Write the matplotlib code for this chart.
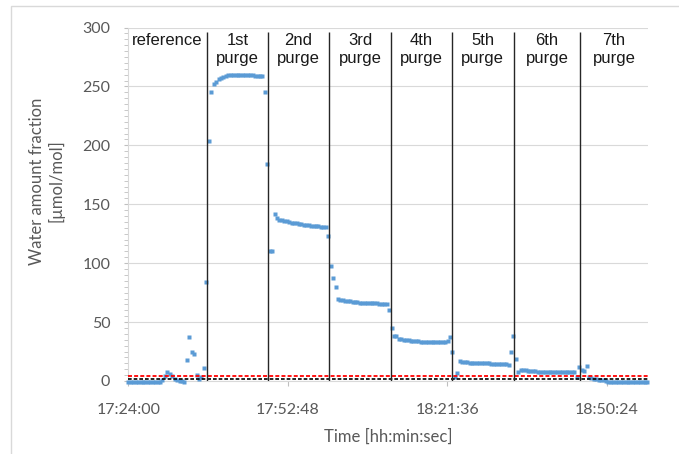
import matplotlib
matplotlib.use('Agg')
import matplotlib.pyplot as plt
from matplotlib.ticker import MultipleLocator, FuncFormatter
from matplotlib.patches import Rectangle
import numpy as np

# ---------------- data ----------------
sample_step_s = 26.4          # measurement interval (s), first sample at 17:24:00
start_clock_s = 17 * 3600 + 24 * 60

ref_vals = [-1, -1, -1, -1, -1, -1, -1, -1, -1, -1, -1, -1, -1, -1,
            1, 4, 8, 6, 4, 2, 1, 0, 0, -1, 18, 37, 25, 23, 5, 2, 3, 11, 84]
purge1_vals = [204, 245, 252, 254, 256, 257, 258, 259, 259.5, 260, 260, 260, 260,
               260, 259.5, 260, 259.5, 259.5, 259.5, 259, 259, 259, 259, 245, 184]
purge2_vals = [110, 110, 142, 138, 137, 136.5, 136, 135.5, 135, 134.5, 134, 133.7,
               133.3, 133, 132.7, 132.4, 132.1, 131.8, 131.5, 131.3, 131.2, 131.1,
               131, 130.5, 123]
purge3_vals = [98, 87, 80, 69.5, 69, 68.5, 68, 67.8, 67.5, 67.2, 67, 66.8, 66.6,
               66.4, 66.2, 66, 66, 65.9, 65.8, 65.8, 65.7, 65.7, 65.6, 65.6, 60]
purge4_vals = [45, 38, 38, 36, 35.5, 35, 34.7, 34.5, 34.3, 34, 33.8, 33.6, 33.5,
               33.4, 33.3, 33.2, 33, 33, 33, 33.5, 33, 33.5, 33.5, 34]
purge5_vals = [37, 25, 3, 7, 17, 16.5, 16, 15.8, 15.6, 15.5, 15.4, 15.3, 15.2,
               15.1, 15, 15, 14.9, 14.8, 14.8, 14.7, 14.7, 14.6, 14.6, 14.5, 14, 25, 38]
purge6_vals = [19, 8, 9, 9.5, 9, 8.5, 8.3, 8.2, 8.1, 8, 8, 8, 7.9, 7.9, 7.8, 7.8,
               7.8, 7.7, 7.7, 7.7, 7.6, 7.6, 7.6, 7.5, 7.5, 3, 12, 9, 8.5, 13]
purge7_vals = [3, 2.5, 2, 1.5, 1, 0.5, 0.5, 0, -0.5, -1, -1, -1, -1, -1, -1, -1,
               -1, -1, -1, -1, -1, -1, -1, -1, -1]

section_labels = ["reference", "1st\npurge", "2nd\npurge", "3rd\npurge",
                  "4th\npurge", "5th\npurge", "6th\npurge", "7th\npurge"]
boundary_s = [849, 1514, 2171, 2848, 3501, 4177, 4894]   # seconds after 17:24:00
red_limits = [4.5]
black_limits = [1.6]
xtick_s = [0, 1728, 3456, 5184]
yticks = [0, 50, 100, 150, 200, 250, 300]
x_max_s = 5630

values = np.array(ref_vals + purge1_vals + purge2_vals + purge3_vals +
                  purge4_vals + purge5_vals + purge6_vals + purge7_vals)
times = np.arange(len(values)) * sample_step_s

# ---------------- figure ----------------
plt.rcParams['font.family'] = ['Lato', 'DejaVu Sans']

fig = plt.figure(figsize=(6.79, 4.54), dpi=100)
fig.add_artist(Rectangle((11 / 679, -0.5), 2, 0.9868 + 0.5, transform=fig.transFigure,
                         fill=False, ec='#D9D9D9', lw=1.0))

ax = fig.add_axes([0.189, 0.1608, 0.7655, 0.7786])
ax.set_xlim(0, x_max_s)
ax.set_ylim(0, 300)

for s in ['top', 'right']:
    ax.spines[s].set_visible(False)
for s in ['left', 'bottom']:
    ax.spines[s].set_color('#D9D9D9')
    ax.spines[s].set_linewidth(0.8)

ax.set_yticks(yticks)
ax.yaxis.set_minor_locator(MultipleLocator(5))
ax.yaxis.grid(True, which='major', color='#D9D9D9', lw=0.8)
ax.set_axisbelow(True)
ax.tick_params(axis='y', which='both', length=3, color='#BFBFBF',
               labelsize=11.5, labelcolor='#595959', pad=10)

def clock_fmt(s, pos):
    tot = int(round(start_clock_s + s))
    return f"{tot // 3600:02d}:{(tot % 3600) // 60:02d}:{tot % 60:02d}"

ax.set_xticks(xtick_s)
ax.xaxis.set_major_formatter(FuncFormatter(clock_fmt))
ax.tick_params(axis='x', length=3.5, color='#BFBFBF', labelsize=11.5,
               labelcolor='#595959', pad=12)

# data
ax.plot(times, values, linestyle='none', marker='s', ms=2.8, color='#5B9BD5',
        mec='none', clip_on=False, zorder=3)

# limit lines
for y in red_limits:
    ax.axhline(y, color='#FF0000', lw=1.3, dashes=(2.2, 1.2), zorder=4)
for y in black_limits:
    ax.axhline(y, color='#000000', lw=1.2, dashes=(2.2, 1.2), zorder=4)

# section separators
ax.vlines(boundary_s, 0, 296, color='#262626', lw=1.0, zorder=4)

edges = [0] + boundary_s + [x_max_s]
for i, lab in enumerate(section_labels):
    mid = (edges[i] + edges[i + 1]) / 2
    ax.text(mid, 295.5, lab, ha='center', va='top', fontsize=12,
            family=['Liberation Sans', 'DejaVu Sans'], linespacing=1.3,
            color='#1a1a1a', zorder=5)

fig.text(47 / 679, 1 - 181 / 454, "Water amount fraction\n[µmol/mol]", rotation=90,
         ha='center', va='center', fontsize=12, color='#595959', linespacing=1.2)
fig.text(0.572, 1 - 437 / 454, "Time [hh:min:sec]", ha='center', va='center',
         fontsize=12, color='#595959')

fig.savefig('out.png', dpi=100)
